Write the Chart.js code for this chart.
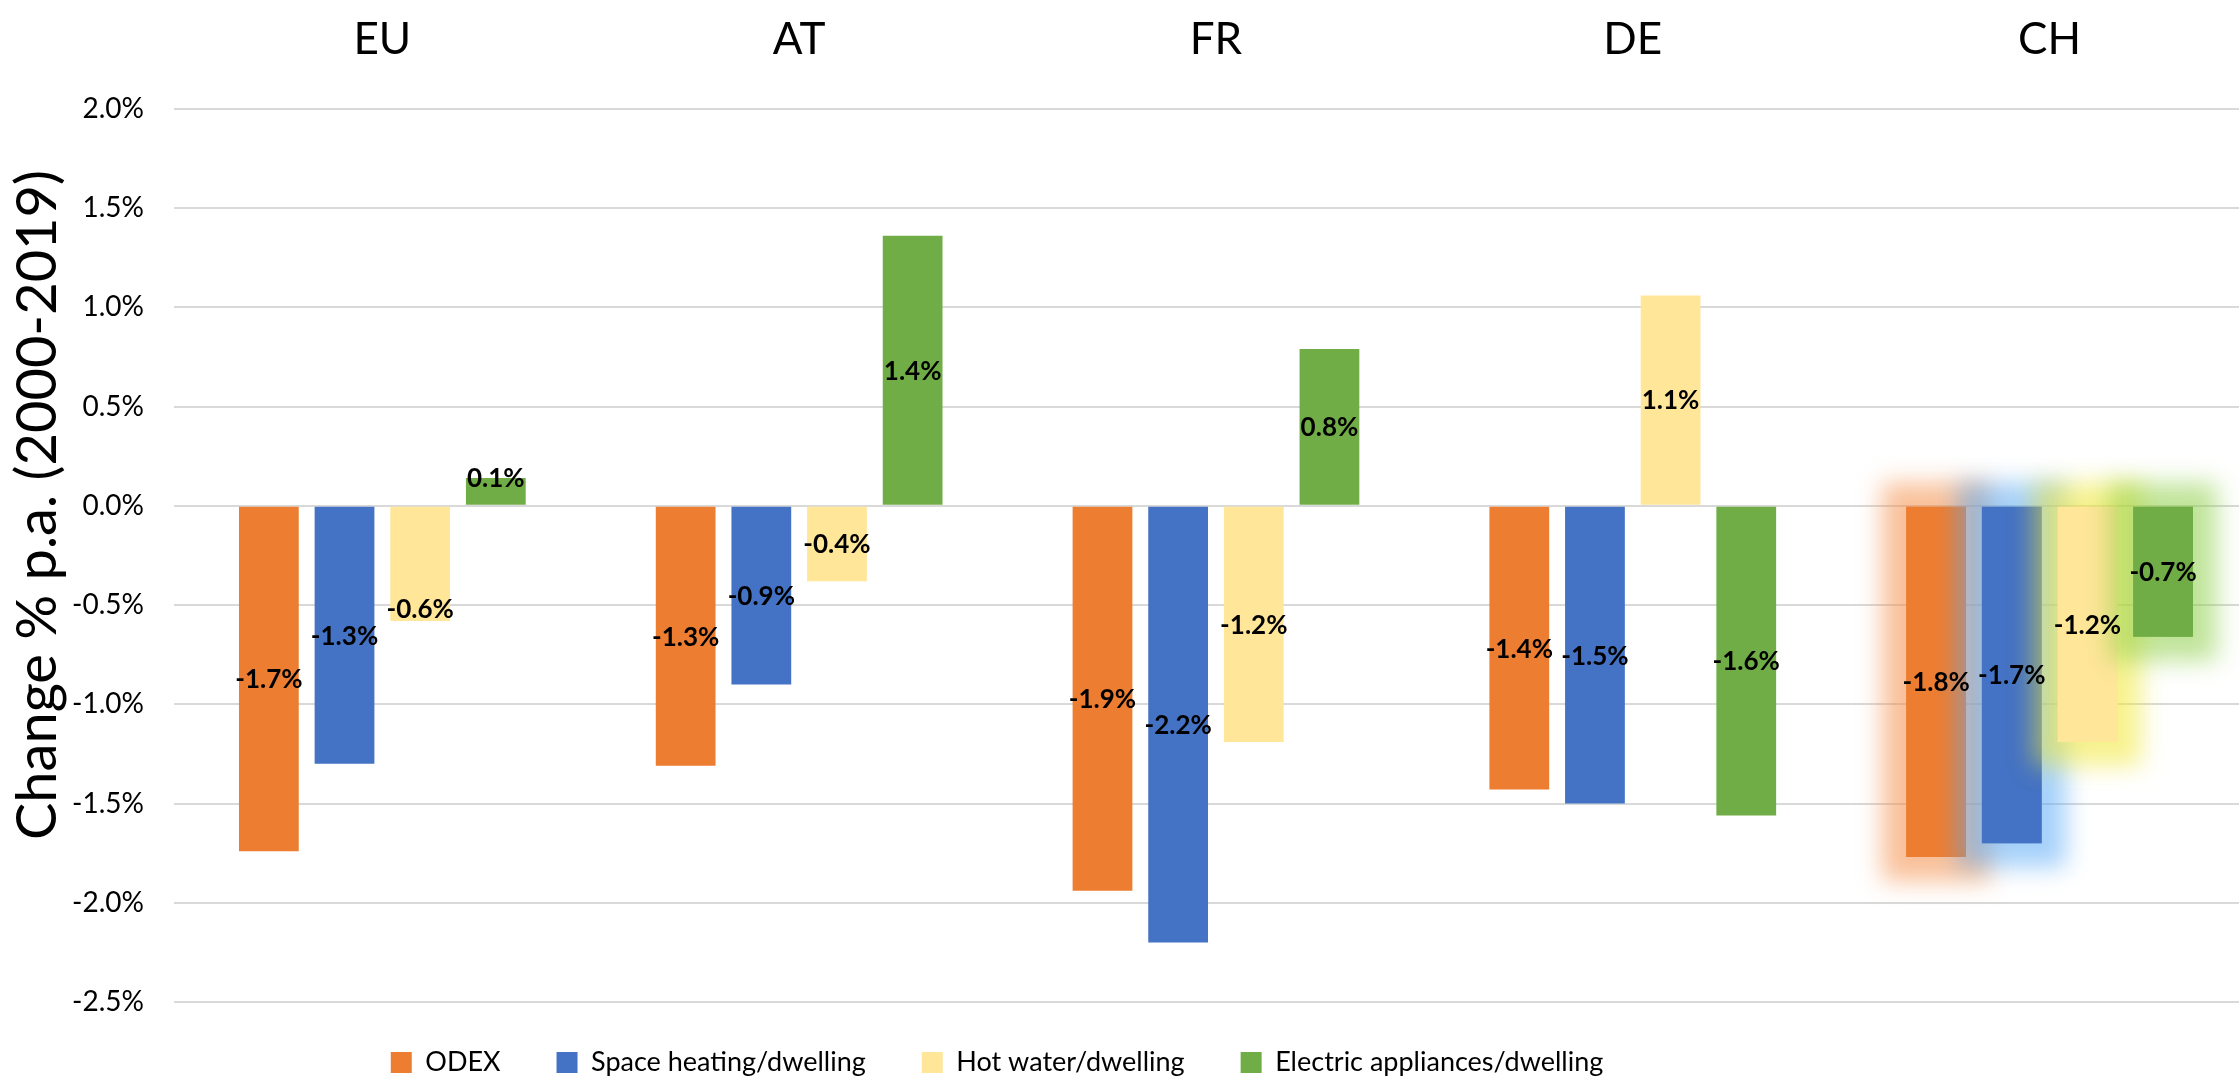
<!DOCTYPE html>
<html>
<head>
<meta charset="utf-8">
<script src="https://cdn.jsdelivr.net/npm/chart.js@4"></script>
<style>
  html, body { margin: 0; padding: 0; background: #ffffff; overflow: hidden; }
  /* the original plot runs a little past the right edge of the picture */
  #wrap { width: 2239px; height: 1088px; overflow: hidden; }
</style>
</head>
<body>
<div id="wrap"><canvas id="chart" width="2258" height="1088"></canvas></div>
<script>
// categories (countries) and series values, % change p.a. 2000-2019
const countries = ['EU', 'AT', 'FR', 'DE', 'CH'];
const seriesNames = ['ODEX', 'Space heating/dwelling', 'Hot water/dwelling', 'Electric appliances/dwelling'];
const odex = [-1.74, -1.31, -1.94, -1.43, -1.77];
const spaceHeating = [-1.30, -0.90, -2.20, -1.50, -1.70];
const hotWater = [-0.58, -0.38, -1.19, 1.06, -1.19];
const appliances = [0.14, 1.36, 0.79, -1.56, -0.66];
const yMin = -2.5;
const yMax = 2.0;
const yStep = 0.5;
const yTitle = 'Change % p.a. (2000-2019)';

const barColors = ['#ed7d31', '#4472c4', '#ffe699', '#70ad47'];
const glowColors = ['rgba(244,140,70,0.55)', 'rgba(90,170,245,0.55)', 'rgba(240,232,50,0.55)', 'rgba(140,205,70,0.55)'];
const glowIndex = countries.indexOf('CH');

const FONT = 'Lato';

function pct(v) {
    return v.toFixed(1) + '%';
}

// y title, glow behind the highlighted category, value labels in the bars
const barDecor = {
    id: 'barDecor',
    afterUpdate(chart) {
        // legend sits left of centre in the original
        const lg = chart.legend;
        const dx = 997 - (lg.left + lg.right) / 2;
        lg.left += dx;
        lg.right += dx;
        lg.top -= 9;  // keep bottom so the legend clip still fits the text
    },
    beforeDraw(chart) {
        const ctx = chart.ctx;
        ctx.save();
        ctx.translate(38, 505);
        ctx.rotate(-Math.PI / 2);
        ctx.font = '56px ' + FONT;
        ctx.fillStyle = '#000000';
        ctx.textAlign = 'center';
        ctx.textBaseline = 'middle';
        ctx.fillText(yTitle, 0, 0);
        ctx.restore();
    },
    afterDatasetsDraw(chart) {
        const ctx = chart.ctx;
        const metas = chart.data.datasets.map((d, i) => chart.getDatasetMeta(i));

        metas.forEach((meta, i) => {
            const el = meta.data[glowIndex];
            const p = el.getProps(['x', 'y', 'base', 'width'], true);
            const top = Math.min(p.y, p.base);
            const h = Math.abs(p.base - p.y);
            ctx.save();
            ctx.filter = 'blur(12px)';
            ctx.fillStyle = glowColors[i];
            ctx.fillRect(p.x - p.width / 2 - 24, top - 24, p.width + 48, h + 48);
            ctx.restore();
            el.draw(ctx);
        });

        // a couple of labels sit near the bar end in the original
        const endInset = { '2-0': 12, '3-0': 0 };
        ctx.save();
        ctx.font = 'bold 26px ' + FONT;
        ctx.fillStyle = '#000000';
        ctx.textAlign = 'center';
        ctx.textBaseline = 'middle';
        metas.forEach((meta, i) => {
            meta.data.forEach((el, j) => {
                const v = chart.data.datasets[i].data[j];
                const p = el.getProps(['x', 'y', 'base'], true);
                let ly = (p.y + p.base) / 2;
                const key = i + '-' + j;
                if (key in endInset) {
                    ly = p.y + (v < 0 ? -endInset[key] : endInset[key]);
                }
                ctx.fillText(pct(v), p.x, ly + 1);
            });
        });
        ctx.restore();
    }
};

const ctx = document.getElementById('chart').getContext('2d');
new Chart(ctx, {
    type: 'bar',
    data: {
        labels: countries,
        datasets: [odex, spaceHeating, hotWater, appliances].map((vals, i) => ({
            label: seriesNames[i],
            data: vals,
            backgroundColor: barColors[i],
            borderWidth: 0,
            categoryPercentage: 0.726,
            barPercentage: 0.79
        }))
    },
    options: {
        responsive: false,
        animation: false,
        devicePixelRatio: 1,
        layout: {
            padding: { left: 42, right: 0, top: -30, bottom: 6 }
        },
        plugins: {
            legend: {
                position: 'bottom',
                maxHeight: 80,
                labels: {
                    boxWidth: 21,
                    boxHeight: 21,
                    padding: 56,
                    color: '#000000',
                    font: { family: FONT, size: 27 }
                }
            },
            tooltip: { enabled: false },
            title: { display: false }
        },
        scales: {
            x: {
                position: 'top',
                grid: { display: false, drawTicks: false },
                border: { display: false },
                ticks: {
                    color: '#000000',
                    padding: 43,
                    font: { family: FONT, size: 44 }
                }
            },
            y: {
                min: yMin,
                max: yMax,
                grid: {
                    color: '#d9d9d9',
                    lineWidth: 2,
                    drawTicks: false,
                    tickLength: 0
                },
                border: { display: false },
                ticks: {
                    stepSize: yStep,
                    padding: 30,
                    color: '#000000',
                    font: { family: FONT, size: 28 },
                    callback: (v) => pct(v)
                }
            }
        }
    },
    plugins: [barDecor]
});
</script>
</body>
</html>
